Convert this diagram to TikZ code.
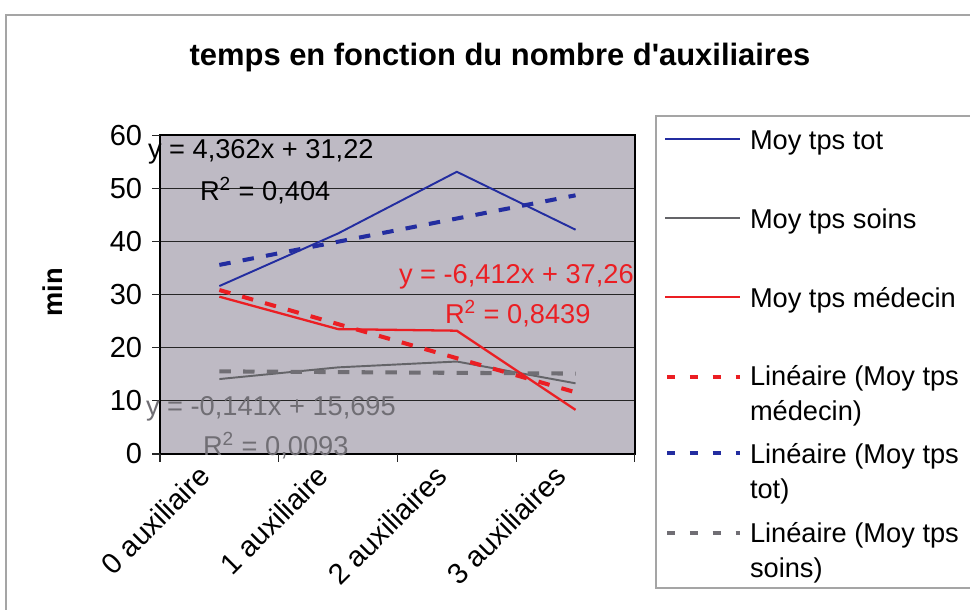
\documentclass[tikz,border=0pt]{standalone}
\usepackage{fontspec}
\setmainfont{Liberation Sans}
\usetikzlibrary{calc}
\definecolor{fondgraph}{RGB}{190,186,196}
\definecolor{bleutot}{RGB}{35,45,160}
\definecolor{grissoins}{RGB}{100,100,104}
\definecolor{rougemed}{RGB}{235,30,35}
\definecolor{gristexte}{RGB}{112,110,116}
\definecolor{griscadre}{RGB}{165,165,165}
\xdef\LWS{1.1pt}
\xdef\LWT{2.3pt}
\xdef\TailleTxt{\noexpand\fontsize{15.5}{19.8}\noexpand\selectfont}
\xdef\TailleAxe{\noexpand\fontsize{16.5}{19.8}\noexpand\selectfont}
\tikzset{
  serie/.style={line width=\LWS, line join=round},
  tendance/.style={line width=\LWT, dash pattern=on 6.5pt off 7pt},
  tendleg/.style={line width=\LWT, dash pattern=on 4.5pt off 8.5pt},
  grille/.style={line width=0.6pt, black!85},
  lab/.style={font=\TailleTxt},
  axelab/.style={font=\TailleAxe},
  titre/.style={font=\fontsize{17.6}{20}\selectfont\bfseries},
}

\begin{document}
\begin{tikzpicture}[x=0.02cm,y=-0.02cm,inner sep=0,outer sep=0]
\useasboundingbox (0,0) rectangle (970,609);
\fill[white] (0,0) rectangle (970,609);
\draw[griscadre, line width=0.8pt] (6,15) rectangle (990,630);
\node[titre, anchor=base] (titre) at (500,65) {temps en fonction du nombre d\textquotesingle auxiliaires};
\node[lab, font=\TailleTxt\bfseries, rotate=90] (ylab) at (53,292) {min};
% zone de trace
\begin{scope}[shift={(160,454)},x=2.375cm,y=0.10633cm]
\fill[fondgraph] (0,0) rectangle (4,60);
\foreach \v in {10,20,...,50} \draw[grille] (0,\v) -- (4,\v);
\draw[line width=0.9pt] (0,0) rectangle (4,60);
\foreach \v in {0,10,...,60}{
  \draw[grille] (0,\v) -- ++(-0.16cm,0);
  \node[axelab, anchor=east] (yt\v) at ([xshift=-0.36cm]0,\v) {\v};
}
\foreach \i in {0,...,4} \draw[grille] (\i,0) -- ++(0,-0.16cm);
\foreach \i/\t in {0/0 auxiliaire,1/1 auxiliaire,2/2 auxiliaires,3/3 auxiliaires}
  \node[axelab, rotate=45, anchor=east] (xt\i) at ([xshift=-0.3cm,yshift=-0.34cm]\i+0.5,0) {\t};
% series
\draw[serie, bleutot] plot coordinates {(0.5,31.6) (1.5,41.5) (2.5,53.1) (3.5,42.2)};
\draw[serie, grissoins] plot coordinates {(0.5,14.1) (1.5,16.3) (2.5,17.4) (3.5,13.3)};
\draw[serie, rougemed, line width=1.3pt] plot coordinates {(0.5,29.6) (1.5,23.5) (2.5,23.2) (3.5,8.3)};
% tendances
\draw[tendance, rougemed] (0.5,30.85) -- (3.5,11.61);
\draw[tendance, bleutot] (0.5,35.58) -- (3.5,48.67);
\draw[tendance, gristexte] (0.5,15.55) -- (3.5,15.13);
\end{scope}
% equations
\node[lab, anchor=base west] (eqtot) at (148,158) {y = 4,362x + 31,22};
\node[lab, anchor=base west] (rtot) at (200,200) {R\textsuperscript{2} = 0,404};
\node[lab, rougemed, anchor=base west] (eqmed) at (399,283) {y = -6,412x + 37,26};
\node[lab, rougemed, anchor=base west] (rmed) at (445,323) {R\textsuperscript{2} = 0,8439};
\node[lab, gristexte, anchor=base west] (eqsoins) at (146,415) {y = -0,141x + 15,695};
\node[lab, gristexte, anchor=base west] (rsoins) at (203,455) {R\textsuperscript{2} = 0,0093};
% legende
\draw[griscadre, line width=0.8pt] (656,116) rectangle (990,588);
\draw[serie, bleutot, line width=0.9pt] (665,139) -- (740,139);
\node[lab, anchor=base west] (legtot) at (750,149) {Moy tps tot};
\draw[serie, grissoins, line width=0.9pt] (665,218) -- (740,218);
\node[lab, anchor=base west] (legsoins) at (750,228) {Moy tps soins};
\draw[serie, rougemed, line width=0.9pt] (665,297) -- (740,297);
\node[lab, anchor=base west] (legmed) at (750,307) {Moy tps médecin};
\draw[tendleg, rougemed] (667,377) -- (740,377);
\node[lab, anchor=base west, align=left] (legtrmed) at (750,420) {Linéaire (Moy tps\\médecin)};
\draw[tendleg, bleutot] (667,453) -- (740,453);
\node[lab, anchor=base west, align=left] (legtrtot) at (750,498) {Linéaire (Moy tps\\tot)};
\draw[tendleg, gristexte] (667,533) -- (740,533);
\node[lab, anchor=base west, align=left] (legtrsoins) at (750,577) {Linéaire (Moy tps\\soins)};
\end{tikzpicture}
\end{document}
